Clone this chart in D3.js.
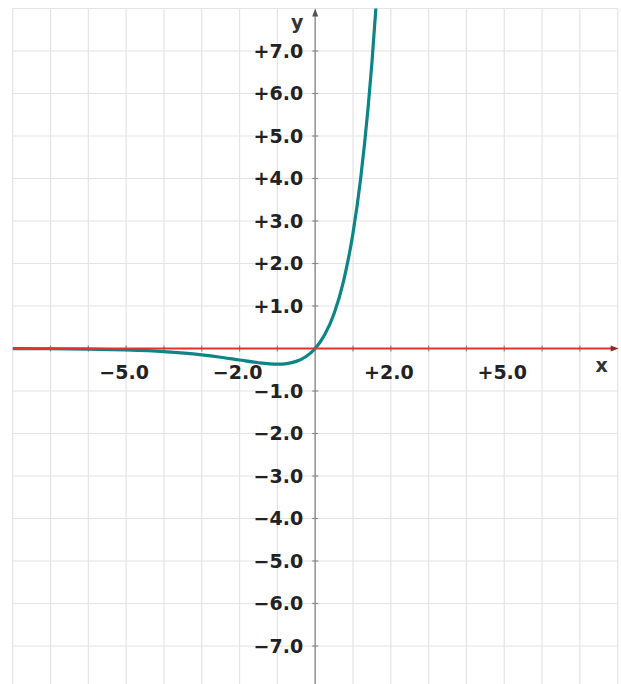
<!DOCTYPE html>
<html>
<head>
<meta charset="utf-8">
<script src="https://cdn.jsdelivr.net/npm/d3@7"></script>
<style>
  html, body { margin: 0; padding: 0; background: #fff; overflow: hidden; }
  svg { display: block; }
</style>
</head>
<body>
<div id="chart"></div>
<script>
// Data
const curveX = [-8, -7, -6, -5, -4, -3, -2.5, -2, -1.5, -1, -0.75, -0.5, -0.25, 0, 0.25, 0.5, 0.75, 1, 1.2, 1.4, 1.5, 1.61];
const curveY = [-0.003, -0.006, -0.015, -0.034, -0.073, -0.149, -0.205, -0.271, -0.335, -0.368, -0.354, -0.303, -0.195, 0, 0.321, 0.824, 1.588, 2.718, 3.984, 5.678, 6.723, 8.07];
const xTickValues = [-5, -2, 2, 5];
const xTickLabels = ["\u22125.0", "\u22122.0", "+2.0", "+5.0"];
const yTickValues = [7, 6, 5, 4, 3, 2, 1, -1, -2, -3, -4, -5, -6, -7];
const yTickLabels = ["+7.0", "+6.0", "+5.0", "+4.0", "+3.0", "+2.0", "+1.0", "\u22121.0", "\u22122.0", "\u22123.0", "\u22124.0", "\u22125.0", "\u22126.0", "\u22127.0"];
const gridValues = d3.range(-8, 9);

const W = 621, H = 700;
const svg = d3.select("#chart").append("svg").attr("width", W).attr("height", H);

const x = d3.scaleLinear().domain([-8, 8]).range([12.7, 617.7]);
const y = d3.scaleLinear().domain([-8, 8]).range([688.5, 8.5]);

const defs = svg.append("defs");
defs.append("clipPath").attr("id", "clip").append("rect")
  .attr("x", x(-8)).attr("y", y(8)).attr("width", x(8) - x(-8)).attr("height", y(-8) - y(8));

// grid
const grid = svg.append("g");
grid.selectAll(".vg").data(gridValues).enter().append("line")
  .attr("x1", d => x(d)).attr("x2", d => x(d)).attr("y1", y(8)).attr("y2", y(-8))
  .attr("stroke", "#e4e4e4").attr("stroke-width", 1.2);
grid.selectAll(".hg").data(gridValues).enter().append("line")
  .attr("y1", d => y(d)).attr("y2", d => y(d)).attr("x1", x(-8)).attr("x2", x(8))
  .attr("stroke", "#e4e4e4").attr("stroke-width", 1.2);

// y axis
const x0 = x(0), y0 = y(0);
svg.append("line").attr("x1", x0).attr("x2", x0).attr("y1", y(8) + 4).attr("y2", H)
  .attr("stroke", "#9a9a9a").attr("stroke-width", 1.6);
svg.append("path").attr("d", `M${x0},${y(8)} L${x0 - 3},${y(8) + 8} L${x0 + 3},${y(8) + 8} Z`).attr("fill", "#555");
svg.selectAll(".yt").data(gridValues.filter(d => d !== 0 && d !== 8 && d !== -8)).enter().append("line")
  .attr("x1", x0 - 3).attr("x2", x0 + 3).attr("y1", d => y(d)).attr("y2", d => y(d))
  .attr("stroke", "#8a8a8a").attr("stroke-width", 1.2);

// x axis ticks
svg.selectAll(".xt").data(gridValues.filter(d => d !== 0 && d !== 8 && d !== -8)).enter().append("line")
  .attr("y1", y0 - 3).attr("y2", y0 + 3).attr("x1", d => x(d)).attr("x2", d => x(d))
  .attr("stroke", "#8a8a8a").attr("stroke-width", 1.2);

// curve
const pts = curveX.map((d, i) => [d, curveY[i]]);
const line = d3.line().x(d => x(d[0])).y(d => y(d[1])).curve(d3.curveMonotoneX);
svg.append("path").datum(pts).attr("d", line).attr("clip-path", "url(#clip)")
  .attr("fill", "none").attr("stroke", "#0b8585").attr("stroke-width", 3.2);

// x axis (red) drawn over
svg.append("line").attr("x1", x(-8)).attr("x2", x(8) - 4).attr("y1", y0).attr("y2", y0)
  .attr("stroke", "#e8312f").attr("stroke-width", 2);
svg.append("path").attr("d", `M${x(8) + 1},${y0} L${x(8) - 7},${y0 - 3} L${x(8) - 7},${y0 + 3} Z`).attr("fill", "#8a2a2a");

// labels
const font = "'DejaVu Sans', Verdana, sans-serif";
svg.selectAll(".yl").data(yTickValues).enter().append("text")
  .attr("x", x0 - 12).attr("y", d => y(d)).attr("dy", "0.36em")
  .attr("text-anchor", "end").attr("font-family", font).attr("font-weight", "bold")
  .attr("font-size", 19).attr("fill", "#222")
  .text((d, i) => yTickLabels[i]);
svg.selectAll(".xl").data(xTickValues).enter().append("text")
  .attr("x", d => x(d) - 2).attr("y", y0 + 30)
  .attr("text-anchor", "middle").attr("font-family", font).attr("font-weight", "bold")
  .attr("font-size", 19).attr("fill", "#222")
  .text((d, i) => xTickLabels[i]);

svg.append("text").attr("x", x0 - 18).attr("y", 29).attr("text-anchor", "middle")
  .attr("font-family", font).attr("font-weight", "bold").attr("font-size", 19).attr("fill", "#333").text("y");
svg.append("text").attr("x", x(8) - 16).attr("y", y0 + 23).attr("text-anchor", "middle")
  .attr("font-family", font).attr("font-weight", "bold").attr("font-size", 19).attr("fill", "#333").text("x");
</script>
</body>
</html>
